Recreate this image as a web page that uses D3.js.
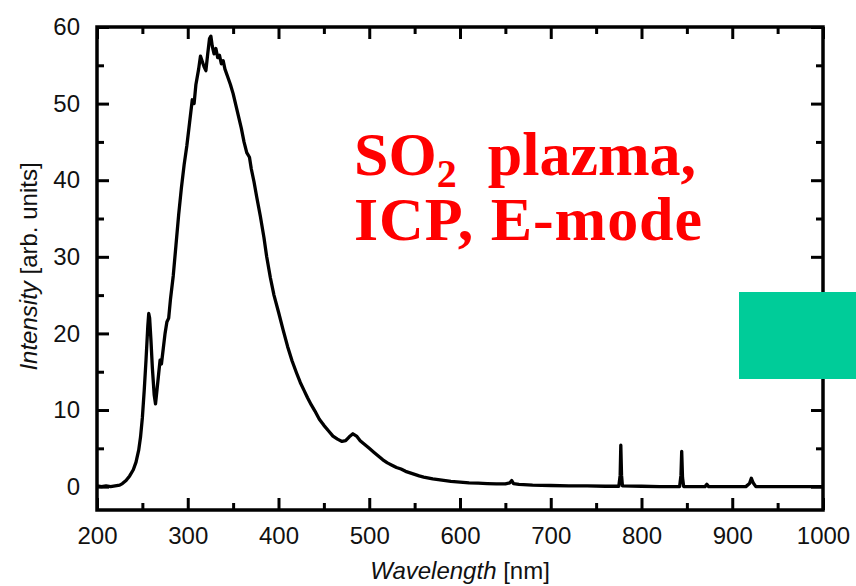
<!DOCTYPE html>
<html>
<head>
<meta charset="utf-8">
<script src="https://cdn.jsdelivr.net/npm/d3@7"></script>
<style>
  body { margin: 0; background: #fff; }
  svg { display: block; }
  .axis text { font-family: "Liberation Sans", Arial, sans-serif; font-size: 24px; fill: #111; }
  .axis line { stroke: #000; stroke-width: 3; }
  .label { font-family: "Liberation Sans", Arial, sans-serif; font-size: 24px; fill: #111; }
</style>
</head>
<body>
<svg id="chart"></svg>
<script>
// spectrum (nm, arb. units)
const wavelengths = [
  200, 205, 210, 215, 220, 225, 228, 232, 236, 240, 243, 246, 248, 250, 252, 254, 256, 257, 258, 259.5,
  261, 263, 264.5, 266, 268, 269.5, 271, 273, 275, 277, 279, 281, 284, 287, 290, 293, 296, 299, 302, 305,
  307, 309, 312, 314, 316, 318, 320, 322, 324, 325.5, 327, 329, 331, 333, 335, 337, 339, 341, 344, 347,
  350, 353, 356, 359, 362, 365, 368, 370, 373, 376, 380, 384, 387, 391, 395, 400, 405, 410, 415, 420,
  424, 428, 432, 436, 440, 445, 450, 455, 460, 465, 470, 474, 478, 482, 486, 490, 495, 500, 505, 510,
  515, 520, 525, 530, 535, 540, 545, 550, 555, 560, 570, 580, 590, 600, 610, 620, 630, 640, 650, 655,
  657, 659, 665, 680, 700, 720, 740, 760, 775, 776.5, 777.2, 778, 779, 800, 820, 842, 843.5, 844.3, 845.2, 846.5,
  870, 872, 874, 900, 915, 919, 921, 923, 926, 950, 975, 1000
];
const intensities = [
  0.1, 0.0, 0.1, 0.0, 0.1, 0.2, 0.4, 0.8, 1.4, 2.2, 3.2, 4.8, 6.5, 9.0, 12.5, 16.5, 21.0, 22.6, 22.0, 19.0,
  15.5, 12.0, 10.8, 12.5, 14.8, 16.5, 16.0, 18.0, 20.0, 21.5, 22.0, 24.5, 27.5, 31.5, 35.5, 39.0, 42.0, 44.5, 47.5, 50.5,
  50.0, 52.5, 54.5, 56.2, 55.5, 54.8, 54.3, 56.5, 58.5, 58.8, 57.5, 56.5, 57.2, 56.0, 56.3, 55.2, 55.6, 54.5, 53.5, 52.5,
  51.3, 49.8, 48.3, 46.8, 45.0, 43.6, 43.0, 41.5, 39.8, 37.8, 35.3, 32.5, 30.0, 27.3, 25.0, 22.8, 20.5, 18.3, 16.4, 14.8,
  13.6, 12.6, 11.6, 10.7, 9.9, 8.8, 8.0, 7.3, 6.6, 6.2, 5.9, 6.0, 6.5, 6.9, 6.6, 6.0, 5.5, 5.0, 4.5, 4.0,
  3.5, 3.1, 2.8, 2.5, 2.3, 2.0, 1.8, 1.6, 1.4, 1.25, 1.0, 0.85, 0.7, 0.6, 0.5, 0.45, 0.4, 0.35, 0.35, 0.5,
  0.8, 0.4, 0.3, 0.2, 0.15, 0.1, 0.1, 0.05, 0.05, 1.5, 5.4, 1.5, 0.1, 0.05, 0.0, 0.0, 1.5, 4.6, 1.2, 0.0,
  0.0, 0.3, 0.0, 0.0, 0.0, 0.4, 1.1, 0.5, 0.0, 0.0, 0.0, 0.0
];
const xTicks = [200, 300, 400, 500, 600, 700, 800, 900, 1000];
const xMinorTicks = [250, 350, 450, 550, 650, 750, 850, 950];
const yTicks = [0, 10, 20, 30, 40, 50, 60];
const yMinorTicks = [5, 15, 25, 35, 45, 55];

const config = {
  containerWidth: 856,
  containerHeight: 586,
  margin: { top: 27, right: 33, bottom: 76, left: 97 }
};
const width = config.containerWidth - config.margin.left - config.margin.right;
const height = config.containerHeight - config.margin.top - config.margin.bottom;

const data = wavelengths.map((w, i) => ({ w: w, v: intensities[i] }));

const xScale = d3.scaleLinear().domain([200, 1000]).range([0, width]);
const yScale = d3.scaleLinear().domain([-3.05, 60]).range([height, 0]);

const svg = d3.select("#chart")
  .attr("width", config.containerWidth)
  .attr("height", config.containerHeight);

const chart = svg.append("g")
  .attr("transform", `translate(${config.margin.left},${config.margin.top})`);

// ticks point inwards on all four sides
const majorLen = -12, minorLen = -7, pad = 17;

chart.append("g").attr("class", "axis")
  .attr("transform", `translate(0,${height})`)
  .call(d3.axisBottom(xScale).tickValues(xTicks).tickSize(majorLen).tickPadding(pad).tickFormat(d3.format("d")));
chart.append("g").attr("class", "axis")
  .attr("transform", `translate(0,${height})`)
  .call(d3.axisBottom(xScale).tickValues(xMinorTicks).tickSize(minorLen).tickFormat(""));
chart.append("g").attr("class", "axis")
  .call(d3.axisTop(xScale).tickValues(xTicks).tickSize(majorLen).tickFormat(""));
chart.append("g").attr("class", "axis")
  .call(d3.axisTop(xScale).tickValues(xMinorTicks).tickSize(minorLen).tickFormat(""));

chart.append("g").attr("class", "axis")
  .call(d3.axisLeft(yScale).tickValues(yTicks).tickSize(majorLen).tickPadding(pad).tickFormat(d3.format("d")));
chart.append("g").attr("class", "axis")
  .call(d3.axisLeft(yScale).tickValues(yMinorTicks).tickSize(minorLen).tickFormat(""));
chart.append("g").attr("class", "axis")
  .attr("transform", `translate(${width},0)`)
  .call(d3.axisRight(yScale).tickValues(yTicks).tickSize(majorLen).tickFormat(""));
chart.append("g").attr("class", "axis")
  .attr("transform", `translate(${width},0)`)
  .call(d3.axisRight(yScale).tickValues(yMinorTicks).tickSize(minorLen).tickFormat(""));

chart.selectAll(".axis .domain").remove();

// frame
chart.append("rect")
  .attr("width", width)
  .attr("height", height)
  .attr("fill", "none")
  .attr("stroke", "#000")
  .attr("stroke-width", 3.5);

// spectrum
const line = d3.line()
  .x(d => xScale(d.w))
  .y(d => yScale(d.v));

chart.append("path")
  .datum(data)
  .attr("fill", "none")
  .attr("stroke", "#000")
  .attr("stroke-width", 3.3)
  .attr("stroke-linejoin", "round")
  .attr("d", line);

// axis titles
const xTitle = svg.append("text")
  .attr("class", "label")
  .attr("text-anchor", "middle")
  .attr("x", config.margin.left + width / 2)
  .attr("y", config.containerHeight - 7);
xTitle.append("tspan").attr("font-style", "italic").text("Wavelength");
xTitle.append("tspan").text(" [nm]");

const yTitle = svg.append("text")
  .attr("class", "label")
  .attr("text-anchor", "middle")
  .attr("transform", `translate(37,${config.margin.top + height / 2 - 2}) rotate(-90)`);
yTitle.append("tspan").attr("font-style", "italic").text("Intensity");
yTitle.append("tspan").text(" [arb. units]");

// red annotation, two lines in one text element
const note = svg.append("text")
  .attr("font-family", "'Liberation Serif', 'Times New Roman', serif")
  .attr("font-weight", "bold")
  .attr("font-size", 62)
  .attr("fill", "#ff0000")
  .attr("x", 354)
  .attr("y", 175);
note.append("tspan").text("SO");
note.append("tspan").attr("font-size", 40).attr("dy", 12).text("2");
note.append("tspan").attr("dy", -12).text("\u00a0 plazma,");
note.append("tspan").attr("x", 354).attr("dy", 65).attr("textLength", 348).text("ICP, E-mode");

// teal block on the right edge
svg.append("rect")
  .attr("x", 739)
  .attr("y", 292)
  .attr("width", 117)
  .attr("height", 87)
  .attr("fill", "#00cc99");
</script>
</body>
</html>
